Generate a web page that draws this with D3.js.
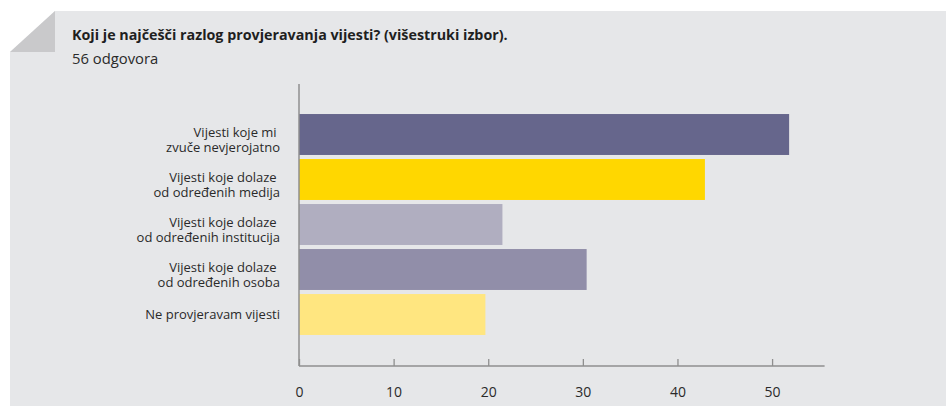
<!DOCTYPE html>
<html>
<head>
<meta charset="utf-8">
<script src="https://cdn.jsdelivr.net/npm/d3@7/dist/d3.min.js"></script>
<style>
  html, body { margin: 0; padding: 0; background: #ffffff; }
  svg { display: block; font-family: "Open Sans", Lato, sans-serif; }
</style>
</head>
<body>
<svg id="chart" width="946" height="406"></svg>
<script>
// Survey question and answer counts
const title = "Koji je najčešči razlog provjeravanja vijesti? (višestruki izbor).";
const subtitle = "56 odgovora";
const categories = [
  ["Vijesti koje mi ", "zvuče nevjerojatno"],
  ["Vijesti koje dolaze ", "od određenih medija"],
  ["Vijesti koje dolaze ", "od određenih institucija"],
  ["Vijesti koje dolaze ", "od određenih osoba"],
  ["Ne provjeravam vijesti"]
];
const values = [51.8, 42.9, 21.5, 30.4, 19.7];
const barColors = ["#66668c", "#ffd700", "#b0aec0", "#918ea9", "#ffe680"];
const tickValues = [0, 10, 20, 30, 40, 50];

const svg = d3.select("#chart");
const W = 946, H = 406;

// Card background with a folded top-left corner
svg.append("path")
  .attr("d", `M10,52 L55,11 L${W},11 L${W},${H} L10,${H} Z`)
  .attr("fill", "#e6e7e9");
svg.append("path")
  .attr("d", "M10,52 L55,11 L55,52 Z")
  .attr("fill", "#c9c9cb");

// Heading
svg.append("text")
  .attr("x", 72).attr("y", 40)
  .attr("font-size", 14.3).attr("font-weight", 700)
  .attr("fill", "#1f1f1f")
  .text(title);
svg.append("text")
  .attr("x", 72).attr("y", 64)
  .attr("font-size", 14.8)
  .attr("fill", "#2a2a2a")
  .text(subtitle);

// Scales
const idx = d3.range(values.length);
const x = d3.scaleLinear().domain([0, 55.55]).range([299, 824.6]);
const y = d3.scaleBand().domain(idx).range([112, 337]).paddingInner(0.09).paddingOuter(0.045);

// Bars
svg.append("g").selectAll("rect")
  .data(idx)
  .join("rect")
  .attr("x", x(0))
  .attr("y", i => y(i))
  .attr("width", i => x(values[i]) - x(0))
  .attr("height", y.bandwidth())
  .attr("fill", i => barColors[i]);

// Category labels, one text element per line
const labels = svg.append("g")
  .attr("font-size", 13)
  .attr("fill", "#2a2a2a")
  .attr("text-anchor", "end");
idx.forEach(i => {
  const lines = categories[i];
  const cy = y(i) + y.bandwidth() / 2;
  lines.forEach((ln, k) => {
    const base = lines.length === 1 ? cy + 4 : cy + 2 + k * 15;
    labels.append("text")
      .attr("x", 280).attr("y", base)
      .attr("xml:space", "preserve")
      .style("white-space", "pre")
      .text(ln);
  });
});

// Value axis along the bottom, ticks pointing up
const axis = d3.axisBottom(x).tickValues(tickValues).tickSize(-7).tickPadding(0).tickFormat(d3.format("d"));
const gx = svg.append("g").attr("transform", "translate(0,366)").call(axis);
gx.select(".domain").remove();
gx.selectAll(".tick line").attr("stroke", "#8f8f8f").attr("stroke-width", 1.3);
gx.selectAll(".tick text")
  .attr("y", 31).attr("dy", 0)
  .attr("font-size", 14)
  .attr("font-family", "'Open Sans', Lato, sans-serif")
  .attr("fill", "#2a2a2a");
svg.append("line")
  .attr("x1", x(0)).attr("x2", x.range()[1])
  .attr("y1", 366).attr("y2", 366)
  .attr("stroke", "#8f8f8f").attr("stroke-width", 1.5);

// Category axis line
svg.append("line")
  .attr("x1", x(0)).attr("x2", x(0))
  .attr("y1", 84).attr("y2", 366)
  .attr("stroke", "#8f8f8f").attr("stroke-width", 1.5);
</script>
</body>
</html>
